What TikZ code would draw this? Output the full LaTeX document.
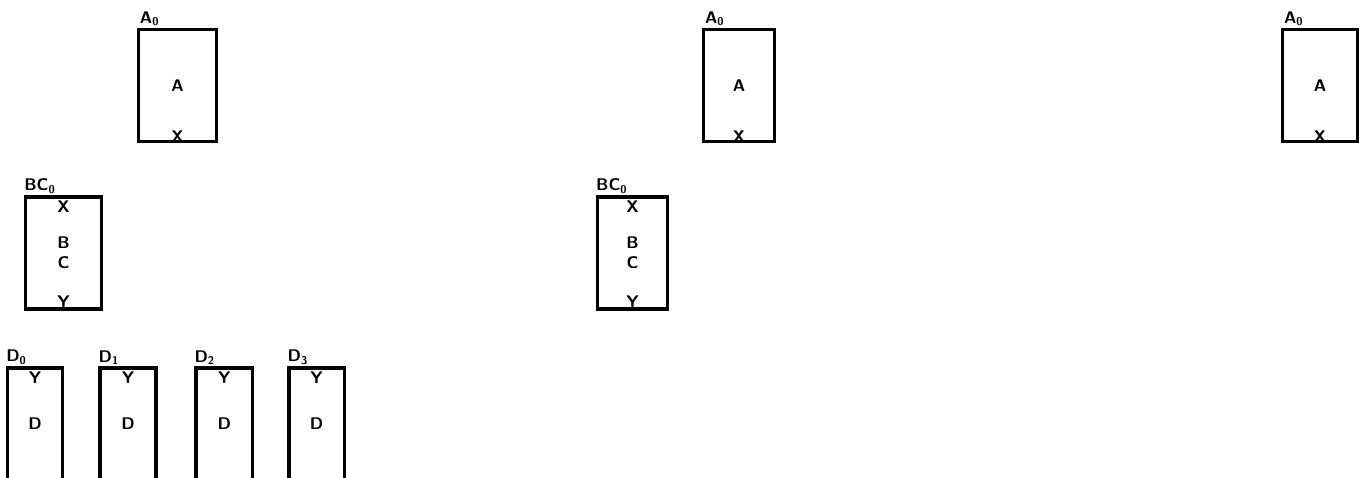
\documentclass[tikz,border=0pt]{standalone}
\usetikzlibrary{positioning}
\begin{document}
\begin{tikzpicture}[x=0.025cm,y=-0.025cm,
  every node/.style={font=\sffamily\bfseries\large,inner sep=0pt},
  blk/.style={draw,line width=2.3pt,minimum height=2.8cm},
  tag/.style={inner sep=1pt}]
\useasboundingbox (0,0) rectangle (1359,478);
% top row
\node[blk,minimum width=1.95cm] (a1) at (177.5,85.5) {};
\node[blk,minimum width=1.77cm] (a2) at (739,85.5) {};
\node[blk,minimum width=1.87cm] (a3) at (1320,85.5) {};
\foreach \n in {a1,a2,a3}{
  \node at (\n.center) {A};
  \node[anchor=south] at (\n.south) {X};
  \node[tag,above right=0pt and 1pt of \n.north west] {A\textsubscript{0}};
}
% middle row
\node[blk,minimum width=1.89cm] (bc1) at (63.5,253) {};
\node[blk,minimum width=1.75cm] (bc2) at (632.5,253) {};
\foreach \n in {bc1,bc2}{
  \node[align=center] at (\n.center) {B\\C};
  \node[anchor=north,below=4pt of \n.north] {X};
  \node[anchor=south,above=2pt of \n.south] {Y};
  \node[tag,above right=0pt and -1pt of \n.north west] {BC\textsubscript{0}};
}
% bottom row
\node[blk,minimum width=1.37cm] (d0) at (35,424) {};
\node[blk,minimum width=1.40cm,right=0.86cm of d0] (d1) {};
\node[blk,minimum width=1.42cm,right=0.915cm of d1] (d2) {};
\node[blk,minimum width=1.38cm,right=0.825cm of d2] (d3) {};
\foreach \n/\i in {d0/0,d1/1,d2/2,d3/3}{
  \node at (\n.center) {D};
  \node[below=4pt of \n.north] {Y};
  \node[tag,above right=0pt and -1pt of \n.north west] {D\textsubscript{\i}};
}
\end{tikzpicture}
\end{document}
